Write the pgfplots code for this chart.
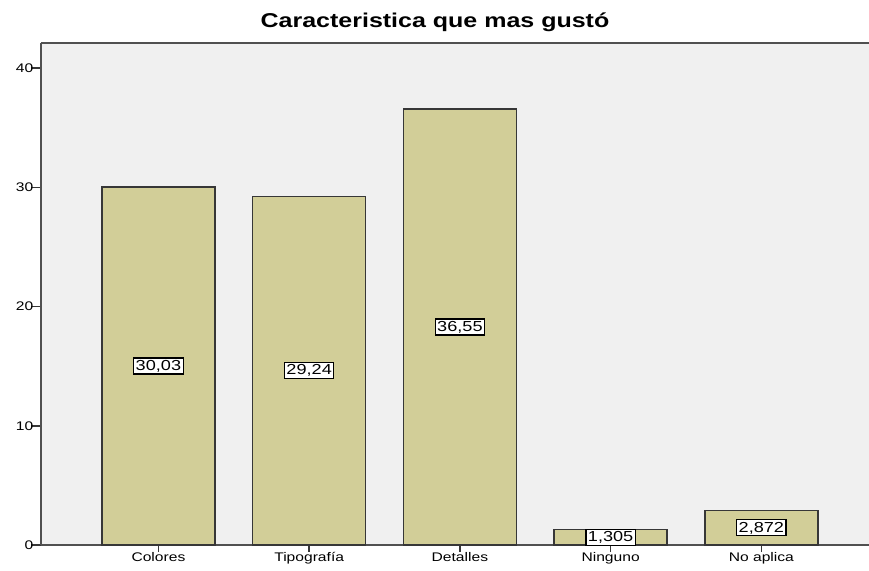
\documentclass[border=0pt]{standalone}
\usepackage{fontspec}
\setmainfont{Liberation Sans}[FakeStretch=1.25]
\usepackage{pgfplots}
\usepackage{pgfplotstable}
\pgfplotsset{compat=1.18}

\definecolor{barfill}{RGB}{210,206,152}
\definecolor{baredge}{RGB}{55,55,55}
\definecolor{plotbg}{RGB}{240,240,240}
\definecolor{frame}{RGB}{80,80,80}

\pgfplotstableread{
x y label
0 30.03 {30,03}
1 29.24 {29,24}
2 36.55 {36,55}
3 1.305 {1,305}
4 2.872 {2,872}
}\datatable

\begin{document}
\begin{tikzpicture}
\begin{axis}[
    name=ax,
    at={(0,0)}, anchor=south west,
    scale only axis,
    width=836pt, height=502pt,
    xmin=-0.779, xmax=4.767,
    ymin=0, ymax=42.1,
    clip=false,
    axis x line*=bottom, axis y line*=left,
    axis background/.style={fill=plotbg},
    axis line style={draw=frame, line width=1.8pt},
    extra description/.code={
      \draw[frame, line width=1.8pt] (axis description cs:0,1) -- (axis description cs:1,1);
    },
    xtick={0,1,2,3,4},
    xticklabels={Colores,Tipografía,Detalles,Ninguno,No aplica},
    ytick={0,10,20,30,40},
    tick align=outside,
    xtick style={draw=baredge, line width=1.5pt, /pgfplots/major tick length=7pt},
    ytick style={draw=baredge, line width=1.5pt, /pgfplots/major tick length=10pt},
    tick label style={font=\fontsize{12.5}{14}\selectfont},
    xticklabel style={text height=9pt, text depth=3pt},
    /pgf/number format/assume math mode=true,
    title={Caracteristica que mas gustó},
    title style={font=\fontsize{20}{24}\selectfont\bfseries,
      at={(axis description cs:0.4713,1)}, anchor=base, yshift=9pt},
]
\addplot[ybar, bar width=0.75, fill=barfill, draw=baredge, line width=1.4pt]
  table[x=x, y=y] {\datatable};
\addplot[only marks, mark=none,
    point meta=explicit symbolic,
    nodes near coords,
    nodes near coords style={anchor=center, fill=white, draw=black,
      line width=1.2pt, inner sep=2pt,
      font=\fontsize{14.5}{16}\selectfont}]
  table[x=x, y expr=\thisrow{y}/2, meta=label] {\datatable};
\end{axis}
\pgfresetboundingbox
\path (ax.south west) ++(-41pt,-25pt) rectangle ++(869pt,570pt);
\end{tikzpicture}
\end{document}
